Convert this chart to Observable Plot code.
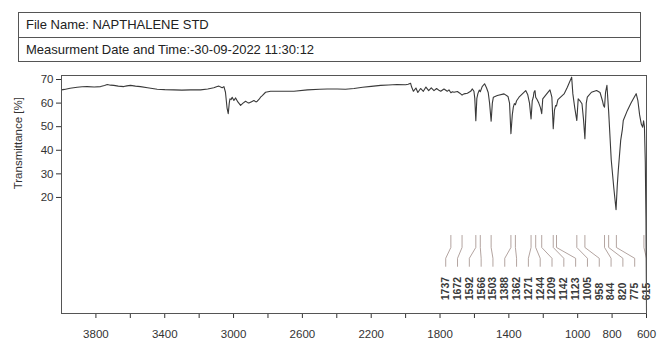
<!DOCTYPE html>
<html>
<head>
<meta charset="utf-8">
<script src="https://cdn.jsdelivr.net/npm/d3@7"></script>
<script src="https://cdn.jsdelivr.net/npm/@observablehq/plot@0.6"></script>
<style>
  html, body { margin: 0; padding: 0; background: #fff; }
  body { width: 670px; height: 343px; overflow: hidden; font-family: "Liberation Sans", Arial, sans-serif; }
  #hdr { position: relative; height: 62px; }
  .box { position: absolute; left: 18px; width: 623px; box-sizing: border-box; border: 1px solid #555;
         font-size: 13px; color: #222; padding-left: 7px; }
  #b1 { top: 12px; height: 26px; line-height: 24px; }
  #b2 { top: 37px; height: 25px; line-height: 23px; }
  #chart svg { display: block; overflow: visible; }
</style>
</head>
<body>
<div id="hdr">
  <div class="box" id="b1">File Name: NAPTHALENE STD</div>
  <div class="box" id="b2">Measurment Date and Time:-30-09-2022 11:30:12</div>
</div>
<div id="chart"></div>
<script>
// ---- data ----
const wavenumber = [
  4000,3983,3950,3909,3880,3851,3810,3773,3750,3734,3715,3696,3670,3638,3620,3599,3570,3541,3500,3444,
  3400,3347,3300,3250,3192,3150,3115,3095,3085,3075,3066,3056,3047,3038,3031,3025,3021,3014,3008,2998,
  2988,2975,2959,2945,2930,2920,2911,2895,2882,2870,2862,2850,2843,2833,2814,2785,2700,2649,2571,2500,
  2455,2397,2350,2300,2250,2200,2145,2100,2050,2000,1985,1971,1965,1955,1940,1929,1913,1897,1882,1866,
  1851,1835,1820,1804,1796,1777,1758,1748,1737,1728,1719,1699,1685,1672,1661,1641,1622,1612,1603,1598,
  1592,1586,1580,1572,1566,1555,1541,1530,1520,1512,1503,1496,1490,1467,1428,1405,1396,1388,1380,1374,
  1368,1362,1355,1341,1320,1302,1290,1280,1271,1264,1258,1254,1248,1244,1236,1226,1216,1209,1203,1180,
  1161,1150,1142,1135,1128,1123,1115,1079,1060,1035,1028,1017,1005,997,985,975,966,958,950,944,
  920,890,870,856,850,844,838,830,825,820,805,790,777,770,764,750,740,735,711,690,
  682,669,660,650,640,630,622,617,612,607,603,600
];
const transmittance = [
  65.6,65.8,66.3,66.7,66.9,67.0,66.8,67.0,67.5,67.9,67.6,67.5,67.2,67.0,67.3,67.5,67.2,67.0,66.5,65.9,
  65.7,65.6,65.5,65.6,65.6,66.0,66.5,67.0,67.2,66.8,66.5,67.0,64.6,58.0,55.5,60.0,61.8,61.5,62.5,61.1,
  62.2,60.5,59.0,60.0,60.8,60.3,60.0,60.6,61.1,60.5,60.8,61.8,62.5,63.2,64.6,65.0,65.0,65.0,65.6,65.9,
  66.0,66.0,65.9,66.2,66.7,67.1,67.5,67.7,67.9,67.8,68.0,68.4,66.8,65.0,66.4,64.5,66.2,65.0,66.8,65.3,
  66.5,65.3,66.2,65.3,65.0,66.0,65.0,65.6,64.4,64.8,64.6,64.9,64.2,63.4,63.9,64.2,65.0,66.0,65.0,62.0,
  52.5,62.0,64.0,65.5,64.8,67.0,68.2,66.5,64.5,60.0,52.3,60.0,62.5,63.2,63.9,62.8,60.0,47.0,55.0,58.3,
  59.8,59.3,61.0,62.5,64.0,65.3,63.5,60.0,53.3,61.0,62.5,64.6,65.3,62.5,61.5,60.0,58.0,55.5,61.8,63.9,
  65.6,62.5,49.1,57.0,59.0,58.8,61.5,63.9,66.7,71.0,63.9,58.0,52.6,61.8,60.8,59.7,53.0,44.9,60.0,62.5,
  64.6,65.3,64.5,61.0,59.0,58.3,64.6,67.5,62.0,56.5,36.0,24.0,14.8,25.0,31.4,44.2,49.0,52.6,56.9,60.0,
  61.1,62.8,64.0,61.0,55.0,51.0,49.8,52.5,50.0,35.0,10.0,-28.0
];
const peakLabels = [1737,1672,1592,1566,1503,1388,1362,1271,1244,1209,1142,1123,1005,958,844,820,775,615];
const yTicks = [20,30,40,50,60,70];
const xTicks = [3800,3600,3400,3200,3000,2800,2600,2400,2200,2000,1800,1600,1400,1200,1000,800,600];
const xTickLabels = [3800,3400,3000,2600,2200,1800,1400,1000,800,600];
const yTitle = "Transmittance [%]";

// ---- layout ----
const spectrum = wavenumber.map((w, i) => ({w, t: transmittance[i]}));
const labelFirst = 1767, labelLast = 600;
const labelStep = (labelFirst - labelLast) / (peakLabels.length - 1);
const labelPos = peakLabels.map((p, i) => labelFirst - i * labelStep);
const leaders = peakLabels.flatMap((p, i) => [
  {id: i, x: p, y: 3.9},
  {id: i, x: p, y: -1.2},
  {id: i, x: labelPos[i], y: -5.8},
  {id: i, x: labelPos[i], y: -9.2}
]);

const chart = Plot.plot({
  width: 670,
  height: 281,
  marginLeft: 61,
  marginRight: 24,
  marginTop: 13,
  marginBottom: 30,
  x: {domain: [4000, 600]},
  y: {domain: [-29.2, 71.7]},
  style: {fontFamily: "'Liberation Sans', Arial, sans-serif", fontSize: "11px", color: "#333", background: "#fff"},
  marks: [
    Plot.axisY({ticks: yTicks, tickSize: 5, tickPadding: 3, label: null, fontSize: 11.5}),
    Plot.axisX({ticks: xTicks, tickSize: 5, tickPadding: 11, label: null, fontSize: 11.5,
      tickFormat: d => xTickLabels.includes(d) ? String(d) : ""}),
    Plot.text([yTitle], {x: () => 4000, y: () => 43, dx: -43, rotate: -90, text: d => d,
      fontSize: 11.5, fill: "#333"}),
    Plot.line(leaders, {x: "x", y: "y", z: "id", stroke: "#a08d88", strokeWidth: 0.8}),
    Plot.text(peakLabels, {x: (d, i) => labelPos[i], y: () => -23.6, text: d => String(d), rotate: -90,
      textAnchor: "start", fontSize: 10.5, fontWeight: "bold", fill: "#3a3a3a"}),
    Plot.line(spectrum, {x: "w", y: "t", stroke: "#3a3a3a", strokeWidth: 1.1}),
    Plot.frame({stroke: "#555", strokeWidth: 1})
  ]
});
document.getElementById("chart").appendChild(chart);
</script>
</body>
</html>
